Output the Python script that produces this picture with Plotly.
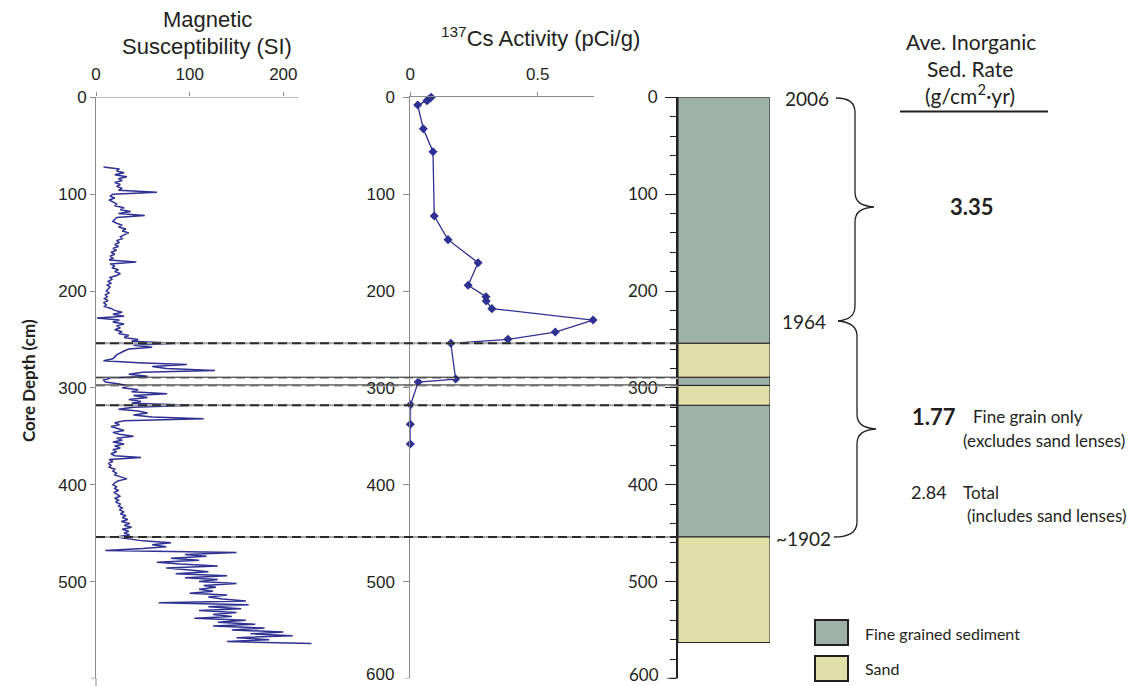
import plotly.graph_objects as go

W, H = 1133, 686


def px(x):
    return x / W


def py(y):
    return 1 - y / H


# ---------------- data ----------------
# Magnetic susceptibility (SI) sampled every 2 cm from 72 to 564 cm
ms_depth = list(range(72, 566, 2))
ms_value = [
    8, 25, 22, 30, 20, 33, 24, 28, 20, 26,
    22, 28, 24, 65, 18, 15, 20, 14, 18, 22,
    20, 30, 26, 37, 24, 52, 22, 20, 18, 22,
    28, 24, 32, 28, 35, 30, 26, 28, 22, 25,
    20, 24, 18, 22, 16, 20, 15, 18, 14, 43,
    15, 20, 17, 24, 20, 26, 22, 15, 17, 13,
    16, 12, 15, 13, 11, 14, 10, 12, 9, 13,
    8, 11, 9, 16, 20, 28, 18, 30, 1, 25,
    18, 30, 22, 26, 20, 28, 24, 35, 30, 45,
    38, 86, 40, 60, 35, 30, 26, 22, 20, 18,
    8, 45, 97, 60, 75, 127, 50, 35, 55, 15,
    8, 10, 25, 35, 28, 45, 38, 76, 40, 55,
    35, 48, 38, 106, 40, 24, 45, 55, 40, 60,
    115, 30, 20, 25, 16, 22, 30, 18, 25, 40,
    22, 28, 18, 30, 20, 26, 18, 22, 16, 20,
    48, 14, 18, 13, 16, 14, 20, 18, 22, 20,
    28, 33, 24, 20, 18, 22, 20, 24, 19, 22,
    26, 20, 24, 21, 26, 24, 28, 25, 30, 26,
    32, 28, 34, 27, 36, 30, 38, 28, 35, 30,
    36, 21, 35, 50, 80, 60, 75, 50, 10, 150,
    95, 118, 80, 110, 65, 90, 130, 75, 100, 120,
    85, 140, 95, 130, 110, 150, 115, 128, 110, 125,
    100, 140, 120, 135, 160, 67, 163, 120, 155, 110,
    150, 125, 145, 105, 160, 130, 170, 125, 180, 145,
    200, 165, 210, 150, 185, 140, 230,
]

# 137Cs activity (pCi/g)
cs_depth = [0, 2, 3.5, 8, 32.4, 56.2, 122.6, 147, 170.8, 194.1, 205.9,
            210.3, 218.2, 230, 242.4, 249.9, 254, 290.9, 294, 317.4, 337.6, 358]
cs_value = [0.082, 0.072, 0.065, 0.029, 0.051, 0.089, 0.094, 0.148, 0.266,
            0.227, 0.297, 0.298, 0.320, 0.717, 0.569, 0.383, 0.159, 0.178,
            0.031, 0.001, 0.0, 0.0]

# Lithology column
litho_top = [0, 254, 289, 297.5, 318, 454]
litho_bottom = [254, 289, 297.5, 318, 454, 563]
litho_type = ["Fine", "Sand", "Fine", "Sand", "Fine", "Sand"]
litho_colors = {"Fine": "#9eb1a8", "Sand": "#e0dfa8"}
litho_names = {"Fine": "Fine grained sediment", "Sand": "Sand"}

# Horizon lines (cm)
horizons_dashed = [254, 318, 454]
horizons_solid = [289, 297]

# Dates
date_labels = ["2006", "1964", "~1902"]

# Sedimentation rates
rate_upper = "3.35"
rate_fine = "1.77"
rate_total = "2.84"

depth_ticks = [0, 100, 200, 300, 400, 500]
depth_max = 600

# ---------------- figure ----------------
BLUE = "#2e3192"
TXT = "#231f20"
AX = "#8c8c8c"
ARIAL = "Liberation Sans, Arial, sans-serif"
MYR = "Lato, sans-serif"

fig = go.Figure()

fig.add_trace(go.Scatter(x=ms_value, y=ms_depth, mode="lines",
                         line=dict(color=BLUE, width=1.5),
                         xaxis="x", yaxis="y", showlegend=False))

fig.add_trace(go.Scatter(x=cs_value, y=cs_depth, mode="lines+markers",
                         line=dict(color=BLUE, width=1.3),
                         marker=dict(symbol="diamond", size=7, color=BLUE),
                         xaxis="x2", yaxis="y2", showlegend=False,
                         cliponaxis=False))

for kind in ["Fine", "Sand"]:
    tops = [t for t, k in zip(litho_top, litho_type) if k == kind]
    bots = [b for b, k in zip(litho_bottom, litho_type) if k == kind]
    fig.add_trace(go.Bar(
        x=[0] * len(tops), y=[b - t for t, b in zip(tops, bots)], base=tops,
        width=1, marker=dict(color=litho_colors[kind],
                             line=dict(color=TXT, width=1)),
        xaxis="x3", yaxis="y3", showlegend=False, name=litho_names[kind]))

ydom = [py(678.4), py(97.3)]
ms_px = 0.9367
ms_right = 335

tickfont_a = dict(family=ARIAL, size=17, color=TXT)
tickfont_m = dict(family=MYR, size=17, color=TXT)

fig.update_layout(
    width=W, height=H,
    margin=dict(l=0, r=0, t=0, b=0, autoexpand=False),
    paper_bgcolor="white", plot_bgcolor="white",
    barmode="overlay",
    xaxis=dict(domain=[px(96), px(ms_right)], range=[0, (ms_right - 96) / ms_px],
               side="top", anchor="y", tickvals=[0, 100, 200],
               showline=False, showgrid=False, zeroline=False,
               ticks="outside", ticklen=4, tickcolor=AX,
               tickfont=tickfont_a, ticklabelstandoff=6, automargin=False),
    yaxis=dict(domain=ydom, range=[depth_max, 0], anchor="x",
               tickvals=depth_ticks,
               showline=True, linecolor=AX, linewidth=1,
               showgrid=False, zeroline=False,
               ticks="outside", ticklen=5, tickcolor=AX,
               tickfont=tickfont_a, automargin=False),
    xaxis2=dict(domain=[px(410.3), px(594.3)], range=[0, 0.722],
                side="top", anchor="y2", tickvals=[0, 0.5], ticktext=["0", "0.5"],
                showline=True, linecolor=AX, linewidth=1,
                showgrid=False, zeroline=False,
                ticks="outside", ticklen=4, tickcolor=AX,
                tickfont=tickfont_a, ticklabelstandoff=6, automargin=False),
    yaxis2=dict(domain=ydom, range=[depth_max, 0], anchor="x2",
                tickvals=depth_ticks,
                showline=True, linecolor=AX, linewidth=1,
                showgrid=False, zeroline=False,
                ticks="outside", ticklen=6, tickcolor=AX,
                tickfont=tickfont_a, ticklabelstandoff=5, automargin=False),
    xaxis3=dict(domain=[px(678), px(770)], range=[-0.5, 0.5], anchor="y3",
                visible=False),
    yaxis3=dict(domain=ydom, range=[depth_max, 0], anchor="x3",
                tickvals=depth_ticks,
                showline=True, linecolor=TXT, linewidth=2,
                showgrid=False, zeroline=False,
                ticks="outside", ticklen=11, tickwidth=1.3, tickcolor=TXT,
                minor=dict(dtick=20, ticks="outside", ticklen=6,
                           tickcolor=TXT, tickwidth=1, showgrid=False),
                tickfont=tickfont_m, ticklabelstandoff=4, automargin=False),
)

shapes = []
# MS top axis line (shorter than plotting area)
shapes.append(dict(type="line", xref="x", yref="y", x0=0, x1=216, y0=0, y1=0,
                   line=dict(color=AX, width=1)))
# MS left axis extends to the bottom edge
shapes.append(dict(type="line", xref="paper", yref="paper", x0=px(96), x1=px(96),
                   y0=0, y1=py(678), line=dict(color=AX, width=1)))
# bottom (600) tick marks
shapes.append(dict(type="line", xref="paper", yref="y", x0=px(91), x1=px(96),
                   y0=depth_max, y1=depth_max, line=dict(color=AX, width=1)))
shapes.append(dict(type="line", xref="paper", yref="y2", x0=px(404.3), x1=px(410.3),
                   y0=depth_max, y1=depth_max, line=dict(color=AX, width=1)))
shapes.append(dict(type="line", xref="paper", yref="y3", x0=px(667), x1=px(678),
                   y0=depth_max, y1=depth_max, line=dict(color=TXT, width=1.3)))

# horizon lines
for d in horizons_dashed:
    shapes.append(dict(type="line", xref="paper", yref="y", x0=px(96), x1=px(678),
                       y0=d, y1=d, line=dict(color="#a6a6a6", width=2)))
    shapes.append(dict(type="line", xref="paper", yref="y", x0=px(96), x1=px(678),
                       y0=d, y1=d, line=dict(color="#2a2a2a", width=2,
                                              dash="9px,5px")))
for d in horizons_solid:
    shapes.append(dict(type="line", xref="paper", yref="y", x0=px(96), x1=px(678),
                       y0=d + 0.8, y1=d + 0.8, line=dict(color="#b0b0b0", width=2,
                                                        dash="9px,5px")))
    shapes.append(dict(type="line", xref="paper", yref="y", x0=px(96), x1=px(678),
                       y0=d, y1=d, line=dict(color="#222222", width=1)))


def path(points):
    s = ""
    for cmd, pts in points:
        s += cmd + " " + " ".join(f"{px(x):.5f},{py(y):.5f}" for x, y in pts) + " "
    return s.strip()


brace1 = path([
    ("M", [(836, 98)]),
    ("C", [(848, 98), (855, 102), (855, 112)]),
    ("L", [(855, 192)]),
    ("C", [(855, 202), (861, 206), (874, 207)]),
    ("C", [(861, 208), (855, 212), (855, 222)]),
    ("L", [(855, 306)]),
    ("C", [(855, 316), (849, 320), (838, 321)]),
])
brace2 = path([
    ("M", [(838, 321)]),
    ("C", [(850, 322), (857, 326), (857, 336)]),
    ("L", [(857, 414)]),
    ("C", [(857, 424), (863, 428), (876, 429)]),
    ("C", [(863, 430), (857, 434), (857, 444)]),
    ("L", [(857, 522)]),
    ("C", [(857, 532), (849, 537), (834, 537)]),
])
for b in (brace1, brace2):
    shapes.append(dict(type="path", xref="paper", yref="paper", path=b,
                       line=dict(color=TXT, width=1.3)))

# header underline
shapes.append(dict(type="line", xref="paper", yref="paper",
                   x0=px(900), x1=px(1048), y0=py(111.5), y1=py(111.5),
                   line=dict(color=TXT, width=2)))

# legend boxes
for i, kind in enumerate(["Fine", "Sand"]):
    y0 = 620 + i * 36
    shapes.append(dict(type="rect", xref="paper", yref="paper",
                       x0=px(815), x1=px(848), y0=py(y0), y1=py(y0 + 25),
                       fillcolor=litho_colors[kind],
                       line=dict(color=TXT, width=2)))

fig.update_layout(shapes=shapes)

ann = []


def text(x, y, s, size, family=MYR, xanchor="center", bold=False, angle=0):
    if bold:
        s = f"<b>{s}</b>"
    ann.append(dict(xref="paper", yref="paper", x=px(x), y=py(y), text=s,
                    showarrow=False, xanchor=xanchor, yanchor="middle",
                    textangle=angle,
                    font=dict(family=family, size=size, color=TXT)))


# panel titles
text(207, 19, "Magnetic", 22, ARIAL)
text(207, 46, "Susceptibility (SI)", 22, ARIAL)
text(540, 37, "<sup>137</sup>Cs Activity (pCi/g)", 22, ARIAL)

# bottom tick labels (600) near the lower edge
text(396, 674, str(depth_max), 17, ARIAL, xanchor="right")
text(661, 674, str(depth_max), 17, MYR, xanchor="right")

# y axis title
text(28, 381, "Core Depth (cm)", 17, MYR, bold=True, angle=-90)

# date labels
text(831, 99, date_labels[0], 19, MYR, xanchor="right")
text(828, 321, date_labels[1], 19, MYR, xanchor="right")
text(833, 538, date_labels[2], 19, MYR, xanchor="right")

# right header
text(971, 41, "Ave. Inorganic", 21)
text(970, 68, "Sed. Rate", 21)
text(970, 94, "(g/cm<sup>2</sup>·yr)", 21)

# rates
text(972, 207, rate_upper, 22, bold=True)
text(910, 416, rate_fine, 22, xanchor="left", bold=True)
text(971, 416, "Fine grain only", 17, xanchor="left")
text(961, 440, "(excludes sand lenses)", 17, xanchor="left")
text(909, 492, rate_total, 18, xanchor="left")
text(961, 492, "Total", 17, xanchor="left")
text(965, 515, "(includes sand lenses)", 17, xanchor="left")

# legend text
text(863, 633, litho_names["Fine"], 16, xanchor="left")
text(863, 668, litho_names["Sand"], 16, xanchor="left")

fig.update_layout(annotations=ann)

fig.write_html("out.html")
